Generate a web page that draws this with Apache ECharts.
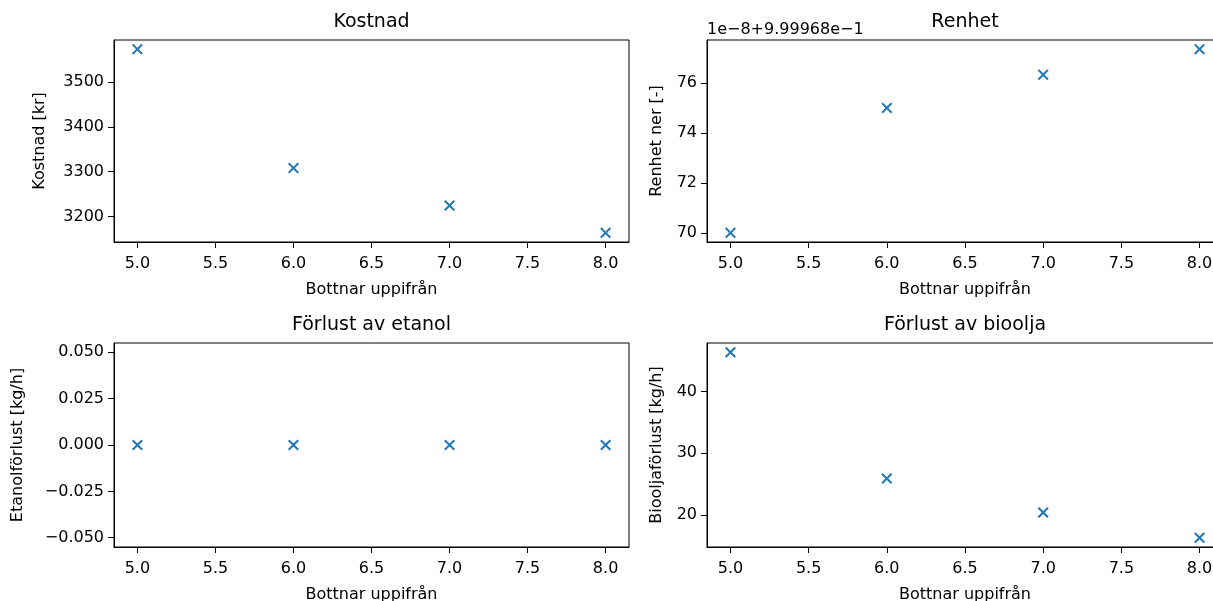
<!DOCTYPE html>
<html>
<head>
<meta charset="UTF-8" />
<title>Bottnar uppifrån</title>
<script src="https://cdn.jsdelivr.net/npm/echarts@6/dist/echarts.min.js"></script>
<style type="text/css">
body,html{margin:0;padding:0;border:0;width:100%;height:100%;overflow:hidden;background:#fff;}
#chartContainer{width:1213px;height:601px;}
</style>
</head>
<body>
<div id="chartContainer"></div>
<script type="text/javascript">
// data
var bottnar = [5, 6, 7, 8];
var kostnad = [3573, 3308, 3224.5, 3163.7];
var renhet = [70.0, 75.0, 76.33, 77.35];      // in units of 1e-8 above 0.999968
var etanolForlust = [0, 0, 0, 0];
var biooljaForlust = [46.4, 25.9, 20.4, 16.3];

var xTicks = [5.0, 5.5, 6.0, 6.5, 7.0, 7.5, 8.0];
var kostnadTicks = [3200, 3300, 3400, 3500];
var renhetTicks = [70, 72, 74, 76];
var etanolTicks = [-0.05, -0.025, 0, 0.025, 0.05];
var biooljaTicks = [20, 30, 40];
var renhetOffsetText = '1e\u22128+9.99968e\u22121';

var FONT = 'DejaVu Sans';
var BLUE = '#1f77b4';
// x marker drawn as a filled cross
var XMARK = 'path://M0,1.3L1.3,0L5,3.7L8.7,0L10,1.3L6.3,5L10,8.7L8.7,10L5,6.3L1.3,10L0,8.7L3.7,5Z';

// matplotlib-like limits: 5% margin on each side
function lim(arr)
{
	var lo = Math.min.apply(null, arr), hi = Math.max.apply(null, arr);
	if (lo === hi) { lo -= 0.05; hi += 0.05; }
	var m = (hi - lo) * 0.05;
	return [lo - m, hi + m];
}
function minus(s){ return String(s).replace('-', '\u2212'); }

var grids = [
	{ left: 114, top: 40, width: 515, height: 202 },
	{ left: 707, top: 40, width: 516, height: 202 },
	{ left: 114, top: 343, width: 515, height: 204 },
	{ left: 707, top: 343, width: 516, height: 204 }
];
var panels = [
	{ title: 'Kostnad', data: kostnad, ticks: kostnadTicks, name: 'Kostnad [kr]', gap: 66, fmt: function(v){ return String(v); } },
	{ title: 'Renhet', data: renhet, ticks: renhetTicks, name: 'Renhet ner [-]', gap: 42, fmt: function(v){ return String(v); } },
	{ title: 'Förlust av etanol', data: etanolForlust, ticks: etanolTicks, name: 'Etanolförlust [kg/h]', gap: 88, fmt: function(v){ return minus(v.toFixed(3)); } },
	{ title: 'Förlust av bioolja', data: biooljaForlust, ticks: biooljaTicks, name: 'Biooljaförlust [kg/h]', gap: 42, fmt: function(v){ return String(v); } }
];

var xLim = lim(bottnar);
var xAxes = [], yAxes = [], series = [], graphics = [];

panels.forEach(function(p, i){
	var g = grids[i], yl = lim(p.data);
	g.show = true; g.borderColor = '#000'; g.borderWidth = 1; g.backgroundColor = '#fff';
	g.outerBoundsMode = 'none'; g.containLabel = false;
	xAxes.push({
		gridIndex: i, type: 'value', min: xLim[0], max: xLim[1],
		name: 'Bottnar uppifrån', nameLocation: 'middle', nameGap: 40,
		nameTextStyle: { color: '#000', fontSize: 16, fontFamily: FONT },
		splitLine: { show: false },
		axisLine: { show: true, onZero: false, lineStyle: { color: '#000', width: 1 } },
		axisTick: { show: true, inside: false, length: 6, customValues: xTicks, lineStyle: { color: '#000', width: 1 } },
		axisLabel: { customValues: xTicks, margin: 14, color: '#000', fontSize: 16, fontFamily: FONT,
			formatter: function(v){ return v.toFixed(1); } }
	});
	yAxes.push({
		gridIndex: i, type: 'value', min: yl[0], max: yl[1],
		name: p.name, nameLocation: 'middle', nameGap: p.gap, nameRotate: 90,
		nameTextStyle: { color: '#000', fontSize: 16, fontFamily: FONT },
		splitLine: { show: false },
		axisLine: { show: true, onZero: false, lineStyle: { color: '#000', width: 1 } },
		axisTick: { show: true, inside: false, length: 6, customValues: p.ticks, lineStyle: { color: '#000', width: 1 } },
		axisLabel: { customValues: p.ticks, margin: 10, color: '#000', fontSize: 16, fontFamily: FONT, formatter: p.fmt }
	});
	series.push({
		type: 'scatter', xAxisIndex: i, yAxisIndex: i,
		symbol: XMARK, symbolSize: 11,
		itemStyle: { color: BLUE, opacity: 1 },
		data: bottnar.map(function(x, k){ return [x, p.data[k]]; })
	});
	graphics.push({
		type: 'text', x: g.left + g.width / 2, y: g.top - 18,
		style: { text: p.title, fill: '#000', font: '19px "' + FONT + '"', textAlign: 'center', textVerticalAlign: 'middle' }
	});
});

// offset text of the Renhet axis
graphics.push({
	type: 'text', x: grids[1].left, y: 30,
	style: { text: renhetOffsetText, fill: '#000', font: '16px "' + FONT + '"', textAlign: 'left', textVerticalAlign: 'middle' }
});

var chart = echarts.init(document.getElementById('chartContainer'), null, { renderer: 'canvas' });
chart.setOption({
	animation: false,
	backgroundColor: '#fff',
	textStyle: { fontFamily: FONT },
	grid: grids,
	xAxis: xAxes,
	yAxis: yAxes,
	series: series,
	graphic: graphics
});
</script>
</body>
</html>
